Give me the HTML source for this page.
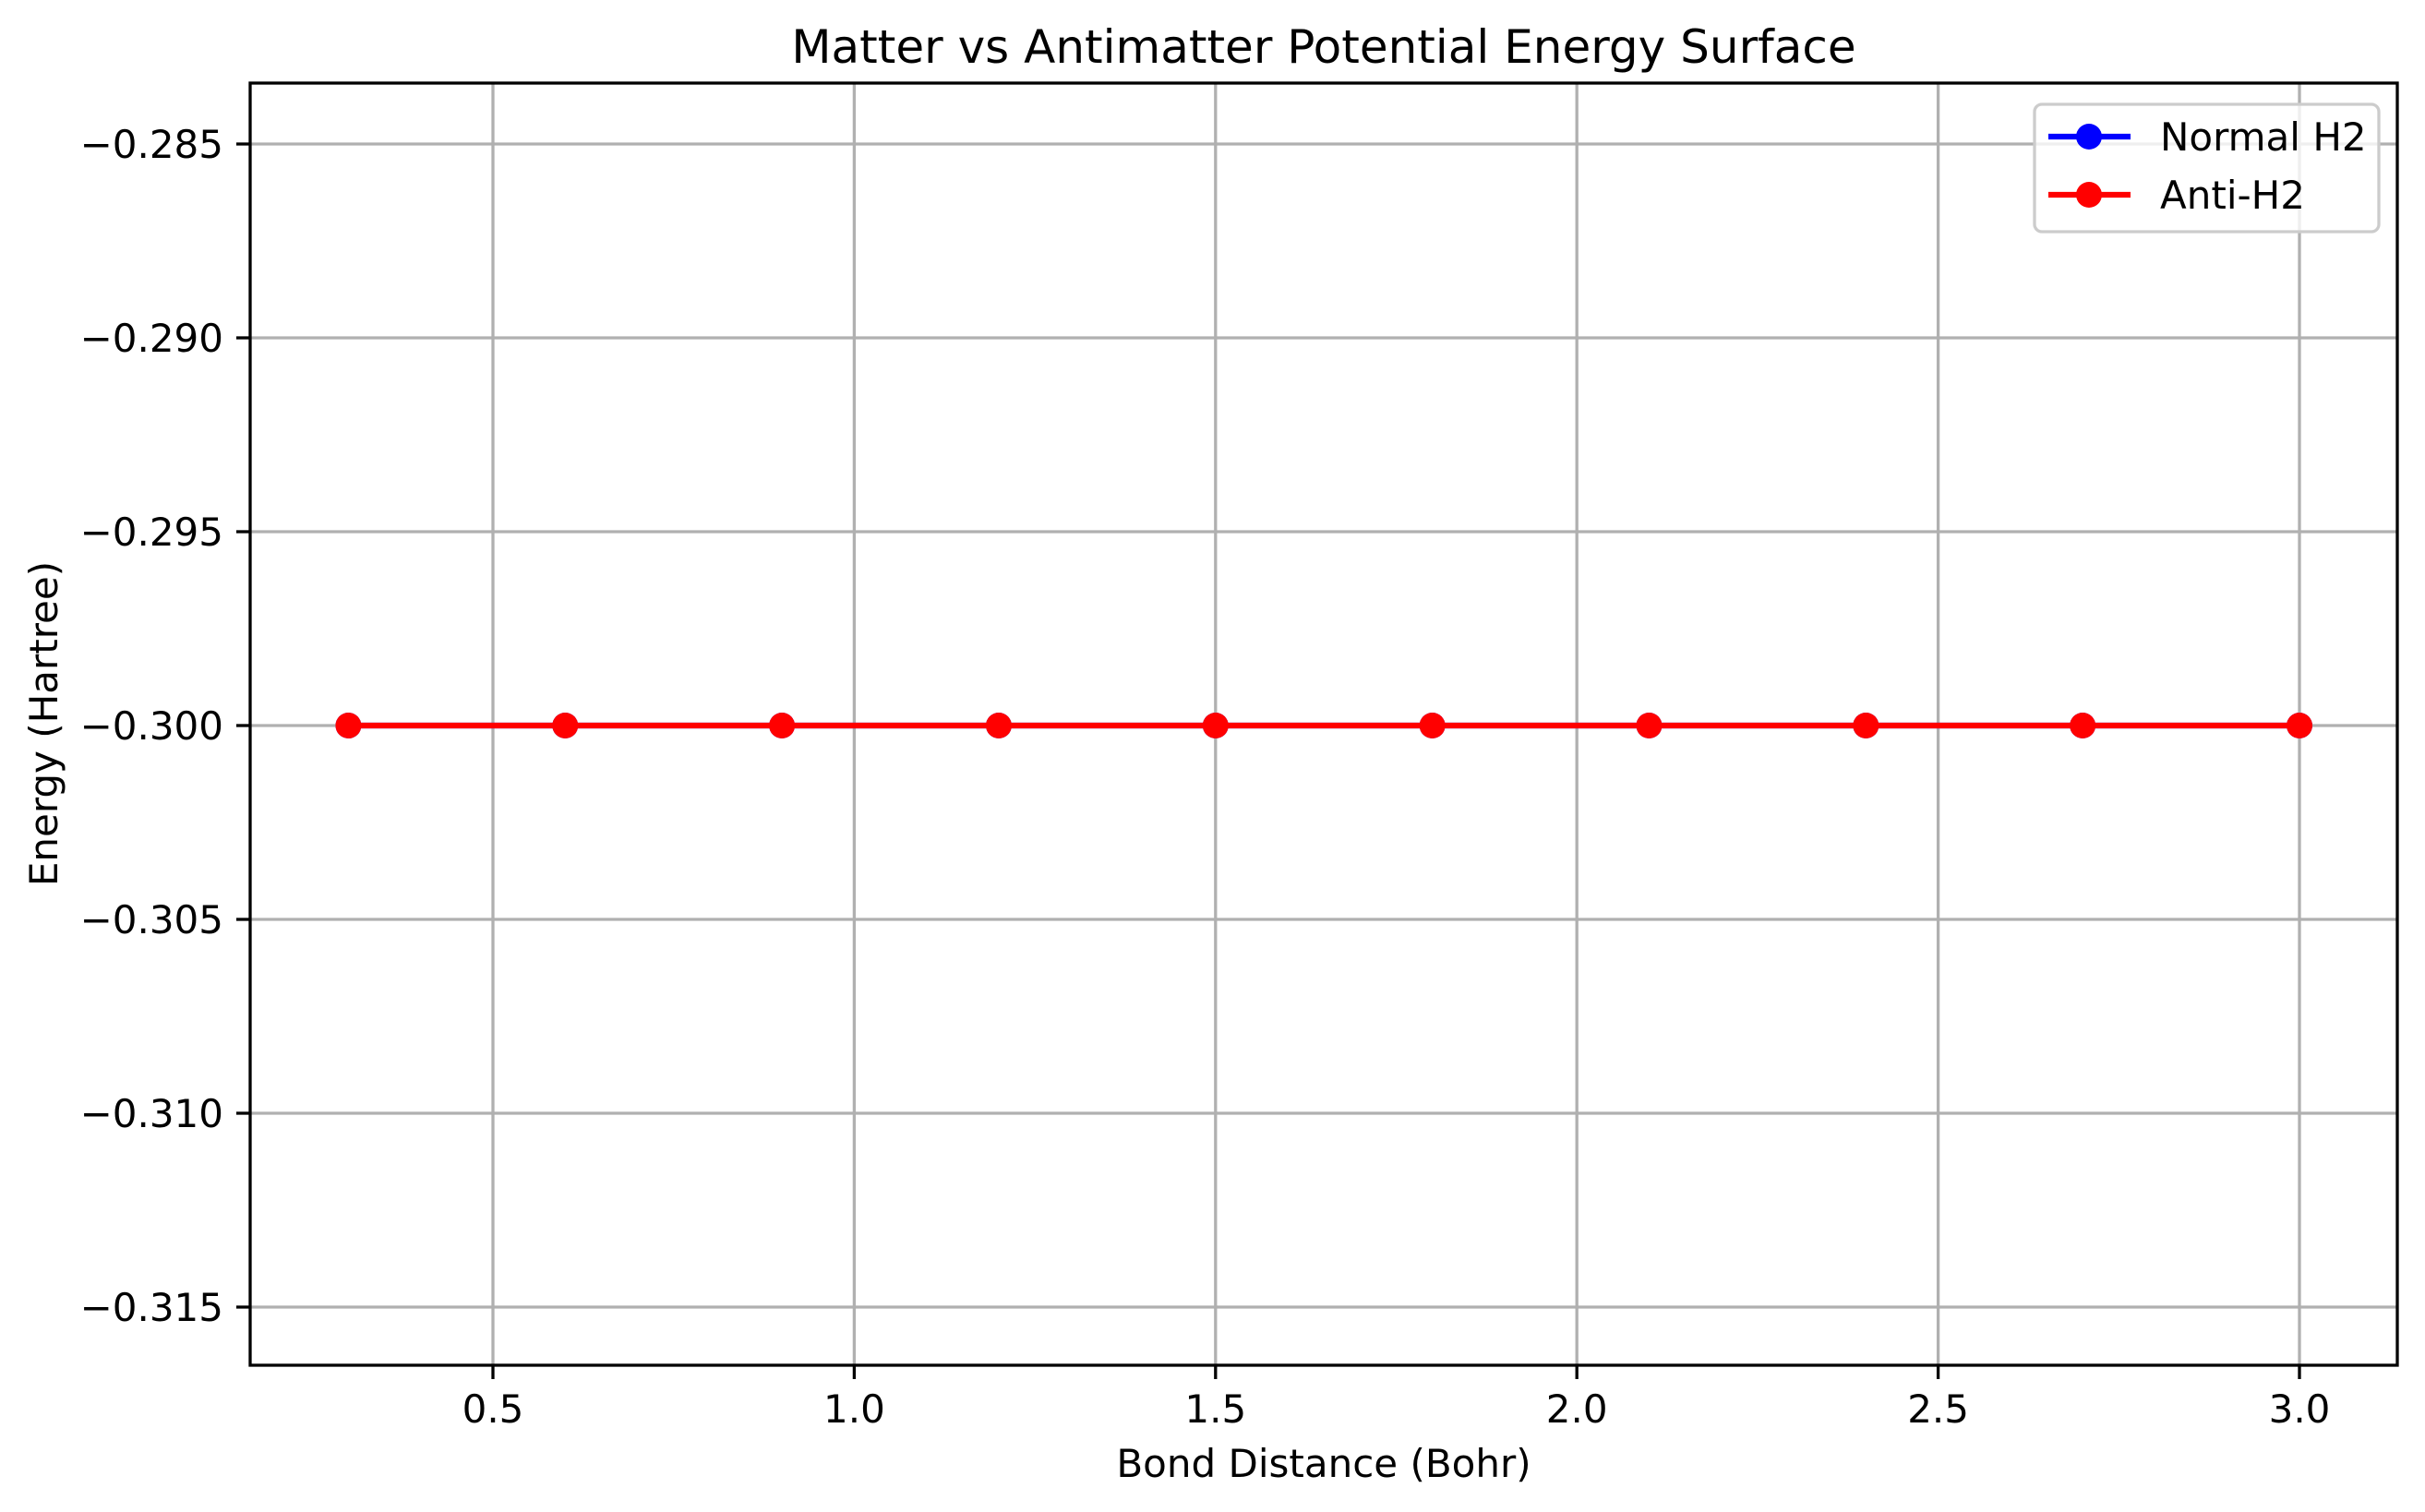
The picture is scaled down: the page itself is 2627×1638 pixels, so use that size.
<!DOCTYPE html>
<html><head><meta charset="utf-8"><style>
html,body{margin:0;padding:0;background:#fff}
svg{display:block;font-family:"DejaVu Sans","Liberation Sans",sans-serif}
</style></head><body>
<svg id="chart" width="2627" height="1638" viewBox="0 0 2627 1638">
<rect width="2627" height="1638" fill="#fff"/>
<g id="grid"></g>
<g id="series"></g>
<rect x="271" y="90" width="2326" height="1389" fill="none" stroke="#000" stroke-width="3.3"/>
<g id="ticks"></g>
<text x="1434" y="68" font-size="50" text-anchor="middle">Matter vs Antimatter Potential Energy Surface</text>
<text x="1434" y="1600" font-size="42" text-anchor="middle">Bond Distance (Bohr)</text>
<text transform="translate(62,784) rotate(-90)" font-size="42" text-anchor="middle">Energy (Hartree)</text>
<g>
<rect x="2204" y="113" width="373" height="138" rx="8" fill="#fff" fill-opacity="0.8" stroke="#cccccc" stroke-width="3.3"/>
<g>
<line x1="2219" y1="148" x2="2308" y2="148" stroke="#0000ff" stroke-width="6.25"/>
<circle cx="2263" cy="148" r="14" fill="#0000ff"/>
<text x="2340" y="163" font-size="42">Normal H2</text></g>
<g>
<line x1="2219" y1="211" x2="2308" y2="211" stroke="#ff0000" stroke-width="6.25"/>
<circle cx="2263" cy="211" r="14" fill="#ff0000"/>
<text x="2340" y="226" font-size="42">Anti-H2</text></g>
</g>
</svg>
<script>
const xValues=[0.3,0.6,0.9,1.2,1.5,1.8,2.1,2.4,2.7,3.0];
const normalH2=[-0.3,-0.3,-0.3,-0.3,-0.3,-0.3,-0.3,-0.3,-0.3,-0.3];
const antiH2=[-0.3,-0.3,-0.3,-0.3,-0.3,-0.3,-0.3,-0.3,-0.3,-0.3];
const xTicks=[0.5,1.0,1.5,2.0,2.5,3.0];
const xTickLabels=["0.5","1.0","1.5","2.0","2.5","3.0"];
const yTicks=[-0.285,-0.29,-0.295,-0.3,-0.305,-0.31,-0.315];
const yTickLabels=["\u22120.285","\u22120.290","\u22120.295","\u22120.300","\u22120.305","\u22120.310","\u22120.315"];
const NS="http://www.w3.org/2000/svg";
function sx(v){return 534+(v-0.5)*782.8;}
function sy(v){return 786+(v+0.3)/0.005*(-210);}
function mk(tag,attrs,parent){const e=document.createElementNS(NS,tag);for(const k in attrs)e.setAttribute(k,attrs[k]);parent.appendChild(e);return e;}
const grid=document.getElementById('grid'),ticks=document.getElementById('ticks'),series=document.getElementById('series');
xTicks.forEach((t,i)=>{
  const x=sx(t);
  const g=mk('line',{x1:x,x2:x,y1:90,y2:1479,stroke:'#b0b0b0','stroke-width':3.3},grid);
  
  
  const tk=mk('line',{x1:x,x2:x,y1:1479,y2:1494,stroke:'#000','stroke-width':3.3},ticks);
  
  
  const tx=mk('text',{x:x,y:1541,'font-size':42,'text-anchor':'middle'},ticks);
  tx.textContent=xTickLabels[i];
  
  
});
yTicks.forEach((t,i)=>{
  const y=sy(t);
  const g=mk('line',{x1:271,x2:2597,y1:y,y2:y,stroke:'#b0b0b0','stroke-width':3.3},grid);
  
  
  const tk=mk('line',{x1:256,x2:271,y1:y,y2:y,stroke:'#000','stroke-width':3.3},ticks);
  
  
  const tx=mk('text',{x:242,y:y+15,'font-size':42,'text-anchor':'end'},ticks);
  tx.textContent=yTickLabels[i];
  
  
});
function drawSeries(vals,color,name){
  const pts=vals.map((v,i)=>sx(xValues[i])+','+sy(v)).join(' ');
  const pl=mk('polyline',{points:pts,fill:'none',stroke:color,'stroke-width':6.25,'stroke-linejoin':'round'},series);
  
  
  vals.forEach((v,i)=>{
    const c=mk('circle',{cx:sx(xValues[i]),cy:sy(v),r:14,fill:color},series);
    
    
  });
}
drawSeries(normalH2,'#0000ff','normal-h2');
drawSeries(antiH2,'#ff0000','anti-h2');
</script>
</body></html>
